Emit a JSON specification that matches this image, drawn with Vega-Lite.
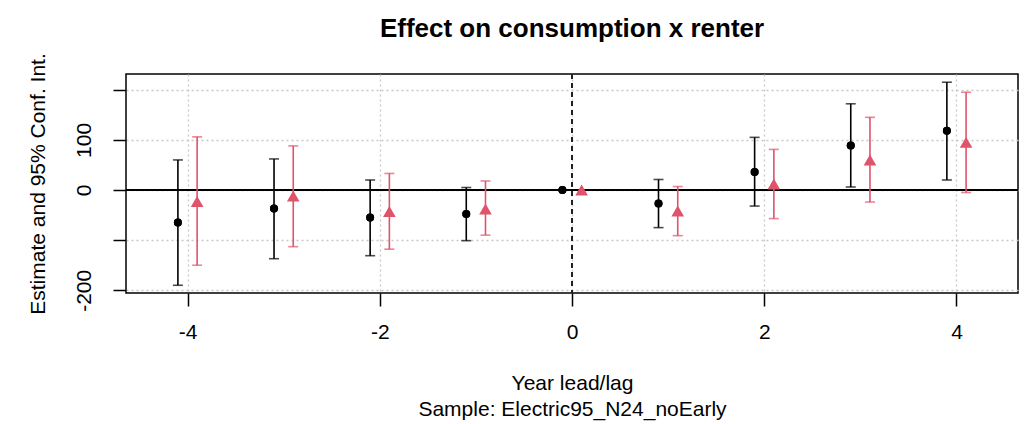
{
  "$schema": "https://vega.github.io/schema/vega-lite/v6.json",
  "width": 892,
  "height": 219,
  "autosize": {"type": "none"},
  "padding": {"left": 126, "top": 74, "right": 12, "bottom": 131},
  "background": "white",
  "title": {
    "text": "Effect on consumption x renter",
    "font": "Liberation Sans",
    "fontSize": 26,
    "fontWeight": "bold",
    "color": "black",
    "anchor": "middle",
    "frame": "group",
    "offset": 11
  },
  "config": {
    "font": "Liberation Sans",
    "view": {"stroke": "black", "strokeWidth": 1.5},
    "axis": {
      "domain": false,
      "grid": true,
      "gridColor": "#c8c8c8",
      "gridDash": [2, 3],
      "gridWidth": 1.3,
      "tickColor": "black",
      "tickSize": 13,
      "tickWidth": 1.5,
      "labelColor": "black",
      "labelFont": "Liberation Sans",
      "labelFontSize": 21,
      "titleFont": "Liberation Sans",
      "titleFontSize": 21,
      "titleColor": "black",
      "titleFontWeight": "normal"
    }
  },
  "data": {
    "values": [
      {"pos": -4.1, "est": -65, "lo": -190, "hi": 60, "model": "1"},
      {"pos": -3.9, "est": -23, "lo": -150, "hi": 106, "model": "2"},
      {"pos": -3.1, "est": -37, "lo": -137, "hi": 62, "model": "1"},
      {"pos": -2.9, "est": -12, "lo": -113, "hi": 88, "model": "2"},
      {"pos": -2.1, "est": -55, "lo": -131, "hi": 20, "model": "1"},
      {"pos": -1.9, "est": -43, "lo": -118, "hi": 33, "model": "2"},
      {"pos": -1.1, "est": -48, "lo": -101, "hi": 5, "model": "1"},
      {"pos": -0.9, "est": -38, "lo": -90, "hi": 18, "model": "2"},
      {"pos": -0.1, "est": 0, "lo": null, "hi": null, "model": "1"},
      {"pos": 0.1, "est": 0, "lo": null, "hi": null, "model": "2"},
      {"pos": 0.9, "est": -27, "lo": -75, "hi": 21, "model": "1"},
      {"pos": 1.1, "est": -42, "lo": -91, "hi": 7, "model": "2"},
      {"pos": 1.9, "est": 36, "lo": -32, "hi": 105, "model": "1"},
      {"pos": 2.1, "est": 12, "lo": -57, "hi": 81, "model": "2"},
      {"pos": 2.9, "est": 89, "lo": 6, "hi": 172, "model": "1"},
      {"pos": 3.1, "est": 60, "lo": -24, "hi": 145, "model": "2"},
      {"pos": 3.9, "est": 118, "lo": 20, "hi": 215, "model": "1"},
      {"pos": 4.1, "est": 95, "lo": -5, "hi": 195, "model": "2"}
    ]
  },
  "layer": [
    {
      "transform": [{"filter": "datum.model == '1'"}],
      "mark": {"type": "point", "shape": "circle", "filled": true, "size": 64, "opacity": 1, "color": "black"},
      "encoding": {
        "x": {"field": "pos", "type": "quantitative", "scale": {"domain": [-4.64, 4.64], "nice": false, "zero": false},
          "axis": {"values": [-4, -2, 0, 2, 4], "labelExpr": "'' + datum.value", "title": ["Year lead/lag", "Sample: Electric95_N24_noEarly"], "titleLineHeight": 26, "labelPadding": 15, "titlePadding": 30, "labelFlush": false}},
        "y": {"field": "est", "type": "quantitative", "scale": {"domain": [-205.4, 231.4], "nice": false, "zero": false},
          "axis": {"values": [-200, -100, 0, 100, 200], "title": "Estimate and 95% Conf. Int.", "labelAngle": -90, "labelAlign": "center", "labelBaseline": "alphabetic", "labelPadding": 23, "labelExpr": "datum.value == -100 || datum.value == 200 ? '' : '' + datum.value", "titlePadding": 25, "labelFlush": false}}
      }
    },
    {
      "mark": {"type": "rule", "color": "black", "strokeWidth": 1.5},
      "encoding": {
        "y": {"datum": 0, "type": "quantitative"}
      }
    },
    {
      "mark": {"type": "rule", "color": "#222222", "strokeWidth": 1.5, "strokeDash": [5, 4]},
      "encoding": {
        "x": {"datum": 0, "type": "quantitative"}
      }
    },
    {
      "mark": {"type": "rule", "strokeWidth": 1.6},
      "encoding": {
        "x": {"field": "pos", "type": "quantitative"},
        "y": {"field": "lo", "type": "quantitative"},
        "y2": {"field": "hi"},
        "color": {"field": "model", "type": "nominal", "scale": {"domain": ["1", "2"], "range": ["black", "#DF536B"]}, "legend": null}
      }
    },
    {
      "mark": {"type": "tick", "orient": "horizontal", "size": 10, "thickness": 1.6},
      "encoding": {
        "x": {"field": "pos", "type": "quantitative"},
        "y": {"field": "lo", "type": "quantitative"},
        "color": {"field": "model", "type": "nominal", "scale": {"domain": ["1", "2"], "range": ["black", "#DF536B"]}, "legend": null}
      }
    },
    {
      "mark": {"type": "tick", "orient": "horizontal", "size": 10, "thickness": 1.6},
      "encoding": {
        "x": {"field": "pos", "type": "quantitative"},
        "y": {"field": "hi", "type": "quantitative"},
        "color": {"field": "model", "type": "nominal", "scale": {"domain": ["1", "2"], "range": ["black", "#DF536B"]}, "legend": null}
      }
    },
    {
      "transform": [{"filter": "datum.model == '1'"}],
      "mark": {"type": "point", "shape": "circle", "filled": true, "size": 64, "opacity": 1, "color": "black"},
      "encoding": {
        "x": {"field": "pos", "type": "quantitative"},
        "y": {"field": "est", "type": "quantitative"}
      }
    },
    {
      "transform": [{"filter": "datum.model == '2'"}],
      "mark": {"type": "point", "shape": "triangle-up", "filled": true, "size": 160, "opacity": 1, "color": "#DF536B"},
      "encoding": {
        "x": {"field": "pos", "type": "quantitative"},
        "y": {"field": "est", "type": "quantitative"}
      }
    }
  ]
}
